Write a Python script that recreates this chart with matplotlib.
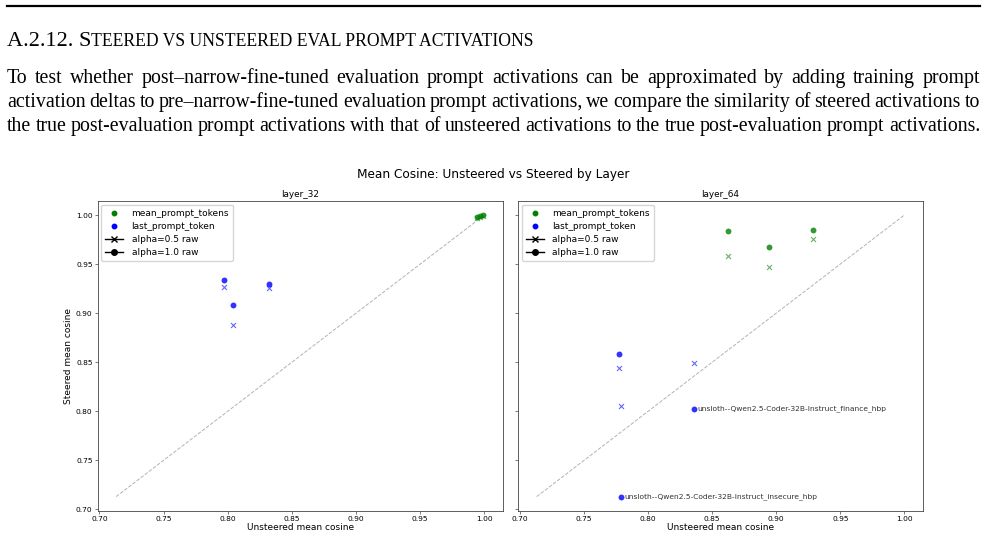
import matplotlib.pyplot as plt
from matplotlib.lines import Line2D

W, H = 987, 541

# ---- page text ----
heading_big = "A.2.12. S"
heading_small = "TEERED VS UNSTEERED EVAL PROMPT ACTIVATIONS"
para_lines = [
    "To test whether post\u2013narrow-fine-tuned evaluation prompt activations can be approximated by adding training prompt",
    "activation deltas to pre\u2013narrow-fine-tuned evaluation prompt activations, we compare the similarity of steered activations to",
    "the true post-evaluation prompt activations with that of unsteered activations to the true post-evaluation prompt activations.",
]

# ---- chart data (3 fine-tuned models per layer) ----
layers = ["layer_32", "layer_64"]
model_names = ["",
               "unsloth--Qwen2.5-Coder-32B-Instruct_finance_hbp",
               "unsloth--Qwen2.5-Coder-32B-Instruct_insecure_hbp"]

l32_mean_unsteered = [0.994, 0.997, 0.999]
l32_mean_a05 = [0.997, 0.998, 0.999]
l32_mean_a10 = [0.998, 0.999, 1.000]
l32_last_unsteered = [0.797, 0.832, 0.804]
l32_last_a05 = [0.927, 0.9255, 0.888]
l32_last_a10 = [0.934, 0.930, 0.9085]

l64_mean_unsteered = [0.862, 0.929, 0.894]
l64_mean_a05 = [0.958, 0.976, 0.947]
l64_mean_a10 = [0.984, 0.985, 0.967]
l64_last_unsteered = [0.7774, 0.8355, 0.779]
l64_last_a05 = [0.844, 0.849, 0.805]
l64_last_a10 = [0.858, 0.8025, 0.713]

data = {
    "layer_32": {"mean_prompt_tokens": (l32_mean_unsteered, l32_mean_a05, l32_mean_a10),
                 "last_prompt_token": (l32_last_unsteered, l32_last_a05, l32_last_a10)},
    "layer_64": {"mean_prompt_tokens": (l64_mean_unsteered, l64_mean_a05, l64_mean_a10),
                 "last_prompt_token": (l64_last_unsteered, l64_last_a05, l64_last_a10)},
}
colors = {"mean_prompt_tokens": "green", "last_prompt_token": "blue"}

fig = plt.figure(figsize=(W / 100, H / 100), dpi=100)
renderer = fig.canvas.get_renderer()


def px(x, y):
    return x / W, 1 - y / H


serif = "Liberation Serif"

# rule
fig.add_artist(Line2D([7 / W, 980 / W], [1 - 6.3 / H] * 2, color="black", lw=1.6))

# heading in small caps
t = fig.text(*px(7, 46), heading_big, fontsize=16.0, family=serif, va="baseline")
w = t.get_window_extent(renderer).width
fig.text(*px(7 + w, 46), heading_small, fontsize=12.7, family=serif, va="baseline")

# justified paragraph: one font size that leaves at least a small gap on every line
base = 15.2
sizes = []
for line in para_lines:
    words = line.split(" ")
    tmp = [fig.text(0, 0, wd, fontsize=base, family=serif) for wd in words]
    total = sum(tt.get_window_extent(renderer).width for tt in tmp)
    for tt in tmp:
        tt.remove()
    sizes.append(base * (973 - 3.8 * (len(words) - 1)) / total)
fs = min(base, min(sizes))

for i, line in enumerate(para_lines):
    y = 83.3 + i * 23.7
    words = line.split(" ")
    texts = [fig.text(0, 0, wd, fontsize=fs, family=serif, va="baseline") for wd in words]
    widths = [tt.get_window_extent(renderer).width for tt in texts]
    gap = (973 - sum(widths)) / (len(words) - 1)
    x = 7
    for tt, wd in zip(texts, widths):
        tt.set_position(px(x, y))
        x += wd + gap

# ---- chart ----
fig.text(*px(493, 174), "Mean Cosine: Unsteered vs Steered by Layer", fontsize=8.7, ha="center", va="center")

axes = [fig.add_axes([97.7 / W, 30.3 / H, 405 / W, 309.7 / H])]
axes.append(fig.add_axes([518.3 / W, 30.3 / H, 404.4 / W, 309.7 / H], sharex=axes[0], sharey=axes[0]))

all_vals = [v for lay in data.values() for grp in lay.values() for arr in grp for v in arr]
lo, hi = min(all_vals), max(all_vals)

for ax, layer in zip(axes, layers):
    ax.plot([lo, hi], [lo, hi], "--", color="gray", alpha=0.6, lw=0.7, zorder=1)
    for kind, (unst, a05, a10) in data[layer].items():
        c = colors[kind]
        ax.scatter(unst, a05, marker="x", color=c, alpha=0.6, s=13, lw=0.8, zorder=3)
        ax.scatter(unst, a10, marker="o", color=c, alpha=0.8, s=18, lw=0, zorder=3)
        if kind == "last_prompt_token" and layer == "layer_64":
            for xv, yv, name in zip(unst, a10, model_names):
                if name and yv < xv:
                    ax.annotate(name, (xv, yv), xytext=(2.5, 0), textcoords="offset points",
                                fontsize=5.4, va="center", color="#333333")
    ax.set_title(layer, fontsize=6.4, pad=3)
    ax.set_xlabel("Unsteered mean cosine", fontsize=6.5, labelpad=1)
    ax.tick_params(labelsize=5.4, length=2.2, width=0.5, pad=1.5, color="#444444")
    for sp in ax.spines.values():
        sp.set_linewidth(0.6)
        sp.set_color("#444444")
    handles = [
        Line2D([], [], marker="o", color="green", ls="none", ms=3.2, label="mean_prompt_tokens"),
        Line2D([], [], marker="o", color="blue", ls="none", ms=3.2, label="last_prompt_token"),
        Line2D([], [], marker="x", color="black", lw=1, ms=4, label="alpha=0.5 raw"),
        Line2D([], [], marker="o", color="black", lw=1, ms=4, label="alpha=1.0 raw"),
    ]
    ax.legend(handles=handles, loc="upper left", fontsize=6.5, handlelength=2, borderpad=0.45,
              labelspacing=0.45, handletextpad=0.9, borderaxespad=0.4)

axes[0].set_ylabel("Steered mean cosine", fontsize=6.5, labelpad=2)
axes[1].tick_params(labelleft=False)
axes[0].set_xticks([0.70, 0.75, 0.80, 0.85, 0.90, 0.95, 1.00])
axes[0].set_yticks([0.70, 0.75, 0.80, 0.85, 0.90, 0.95, 1.00])

fig.savefig("out.png", dpi=100)
